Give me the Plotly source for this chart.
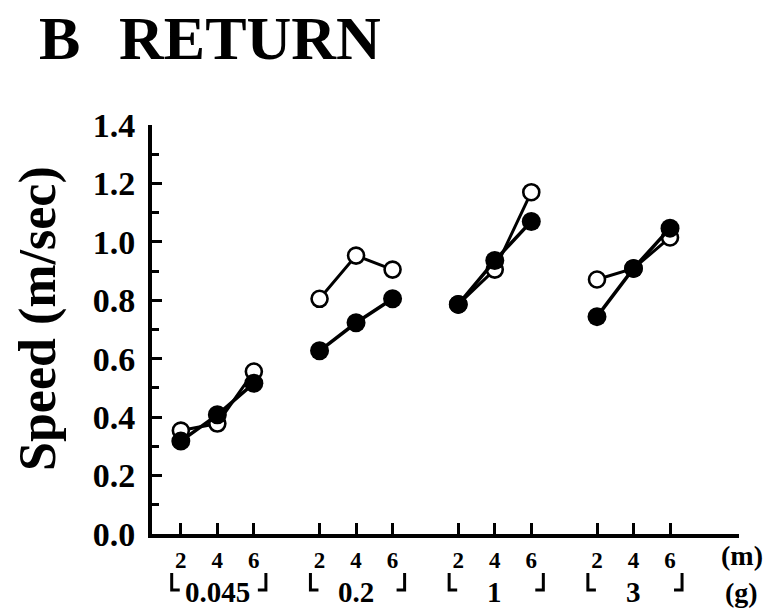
import plotly.graph_objects as go

# ---- data ----
groups = ["0.045", "0.2", "1", "3"]          # (g)
distances = [2, 4, 6]                          # (m)
open_speed = [
    [0.354, 0.378, 0.556],
    [0.805, 0.953, 0.905],
    [0.786, 0.905, 1.170],
    [0.871, 0.909, 1.015],
]
filled_speed = [
    [0.318, 0.408, 0.516],
    [0.627, 0.723, 0.805],
    [0.786, 0.936, 1.070],
    [0.744, 0.909, 1.047],
]
y_ticks = [0.0, 0.2, 0.4, 0.6, 0.8, 1.0, 1.2, 1.4]

# ---- layout helpers ----
GROUP_STEP = 3.8
FONT = "Liberation Serif"

def xpos(gi, m):
    return gi * GROUP_STEP + (m / 2 - 1)

def series(vals):
    xs, ys = [], []
    for gi, row in enumerate(vals):
        for m, v in zip(distances, row):
            xs.append(xpos(gi, m))
            ys.append(v)
        xs.append(None)
        ys.append(None)
    return xs, ys

fig = go.Figure()
ox, oy = series(open_speed)
fx, fy = series(filled_speed)
fig.add_trace(go.Scatter(
    x=ox, y=oy, mode="lines+markers",
    line=dict(color="black", width=3),
    marker=dict(symbol="circle", size=16, color="white",
                line=dict(color="black", width=2.6)),
    showlegend=False, cliponaxis=False))
fig.add_trace(go.Scatter(
    x=fx, y=fy, mode="lines+markers",
    line=dict(color="black", width=3.5),
    marker=dict(symbol="circle", size=19, color="black", line=dict(width=0)),
    showlegend=False, cliponaxis=False))

tickvals, ticktext = [], []
for gi in range(len(groups)):
    for m in distances:
        tickvals.append(xpos(gi, m))
        ticktext.append(str(m))

fig.update_xaxes(
    range=[-0.79, 15.29], showline=True, linewidth=4, linecolor="black",
    showgrid=False, zeroline=False,
    tickmode="array", tickvals=tickvals, ticktext=ticktext,
    ticks="inside", ticklen=11, tickwidth=3, tickcolor="black",
    tickfont=dict(family=FONT, size=23, color="black", weight="bold"),
    ticklabelstandoff=2)
fig.update_yaxes(
    range=[0, 1.4], showline=True, linewidth=4, linecolor="black",
    showgrid=False, zeroline=False,
    tickmode="array", tickvals=y_ticks, ticktext=[f"{v:.1f}" for v in y_ticks],
    ticks="inside", ticklen=10, tickwidth=3, tickcolor="black",
    minor=dict(dtick=0.1, ticks="inside", ticklen=7, tickwidth=3, tickcolor="black"),
    tickfont=dict(family=FONT, size=34, color="black", weight="bold"),
    ticklabelstandoff=6)

PLOT_TOP, PLOT_BOTTOM, PLOT_LEFT, PLOT_RIGHT = 125, 534, 152, 739
H = PLOT_BOTTOM - PLOT_TOP
W = PLOT_RIGHT - PLOT_LEFT

def py(p):
    return (PLOT_BOTTOM - p) / H

def px(p):
    return (p - PLOT_LEFT) / W

bold = dict(family=FONT, color="black", weight="bold")
annotations = []
shapes = []
for gi, g in enumerate(groups):
    annotations.append(dict(
        x=xpos(gi, 4), xref="x", y=py(592), yref="paper", text=g,
        showarrow=False, xanchor="center", yanchor="middle",
        font=dict(size=29, **bold)))
    xl = xpos(gi, 2) - 0.25
    xr = xpos(gi, 6) + 0.33
    shapes.append(dict(type="path", xref="x", yref="paper",
                       path=f"M {xl},{py(573)} L {xl},{py(590)} L {xl + 0.22},{py(590)}",
                       line=dict(color="black", width=3)))
    shapes.append(dict(type="path", xref="x", yref="paper",
                       path=f"M {xr},{py(573)} L {xr},{py(590)} L {xr - 0.22},{py(590)}",
                       line=dict(color="black", width=3)))

annotations += [
    dict(x=px(742), y=py(555), xref="paper", yref="paper", text="(m)",
         showarrow=False, xanchor="center", yanchor="middle", font=dict(size=28, **bold)),
    dict(x=px(742), y=py(592), xref="paper", yref="paper", text="(g)",
         showarrow=False, xanchor="center", yanchor="middle", font=dict(size=28, **bold)),
    dict(x=px(38), y=py(318), xref="paper", yref="paper", text="Speed (m/sec)",
         textangle=-90, showarrow=False, xanchor="center", yanchor="middle",
         font=dict(size=52, **bold)),
    dict(x=px(37), y=py(38), xref="paper", yref="paper", text="B",
         showarrow=False, xanchor="left", yanchor="middle", font=dict(size=62, **bold)),
    dict(x=px(117), y=py(38), xref="paper", yref="paper", text="RETURN",
         showarrow=False, xanchor="left", yanchor="middle", font=dict(size=62, **bold)),
]

fig.update_layout(
    width=770, height=611,
    margin=dict(l=PLOT_LEFT, r=770 - PLOT_RIGHT, t=PLOT_TOP, b=611 - PLOT_BOTTOM),
    paper_bgcolor="white", plot_bgcolor="white",
    annotations=annotations, shapes=shapes,
    font=dict(family=FONT, color="black"))

fig.write_html("out.html")
